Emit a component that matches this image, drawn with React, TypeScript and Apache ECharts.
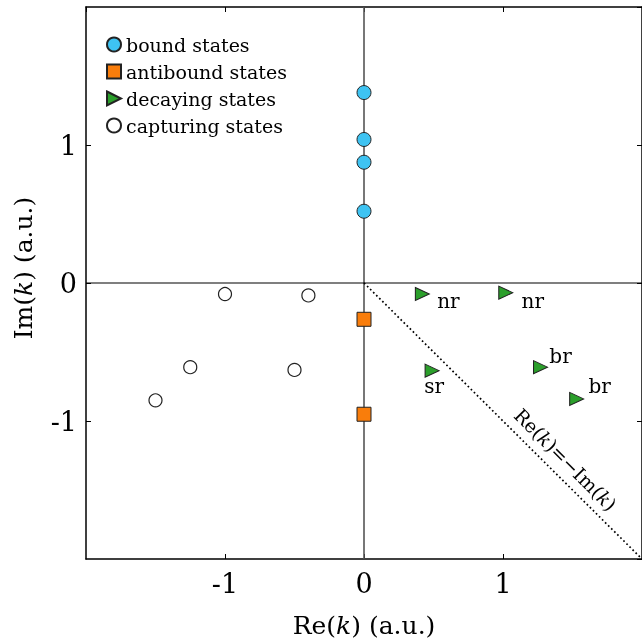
import React, { useEffect, useRef } from "react";
import * as echarts from "echarts";

// ---- data ----
const axisRange = [-2, 2];
const tickStep = 1;
const boundStates = [[0, 1.38], [0, 1.04], [0, 0.875], [0, 0.52]];
const antiboundStates = [[0, -0.263], [0, -0.951]];
const decayingStates = [[0.42, -0.08], [1.02, -0.07], [0.49, -0.635], [1.27, -0.61], [1.53, -0.84]];
const decayingLabels = ["nr", "nr", "sr", "br", "br"];
const capturingStates = [[-1.0, -0.08], [-0.40, -0.09], [-1.25, -0.61], [-0.50, -0.63], [-1.50, -0.85]];
const diagonalLine = [[0, 0], [2, -2]];
const diagonalLabelAt = [1.45, -1.28];
const seriesNames = ["bound states", "antibound states", "decaying states", "capturing states"];

const FONT = "DejaVu Serif";
const TRI = "path://M0,0 L12,6 L0,12 Z";
const labelOffsets: Record<string, number[]> = {
  "0": [26, 7], "1": [27, 8], "2": [2, 15], "3": [20, -11], "4": [23, -13],
};

export default function App() {
  const ref = useRef<HTMLDivElement>(null);
  useEffect(() => {
    if (!ref.current) return;
    const chart = echarts.init(ref.current, undefined, { renderer: "svg" });
    const axisCommon = {
      type: "value",
      min: axisRange[0],
      max: axisRange[1],
      interval: tickStep,
      splitLine: { show: false },
      axisLine: { show: true, onZero: false, lineStyle: { color: "#000", width: 1.5 } },
      axisTick: { show: true, inside: true, length: 5, lineStyle: { color: "#000", width: 1 } },
    };
    const tickLabel = {
      fontFamily: FONT,
      fontSize: 27,
      color: "#000",
      showMinLabel: false,
      showMaxLabel: false,
      formatter: (v: number) => (Math.abs(v) >= 2 ? "" : v < 0 ? "-" + Math.abs(v) : String(v)),
    };
    const rich = {
      i: { fontStyle: "italic", fontFamily: FONT, fontSize: 25, color: "#000" },
      s: { width: 30 },
    };
    const option = {
      animation: false,
      grid: { left: 86, top: 7, width: 556, height: 552 },
      legend: {
        orient: "vertical",
        left: 106,
        top: 35,
        padding: 0,
        itemWidth: 14,
        itemHeight: 14,
        itemGap: 8,
        textStyle: { fontFamily: FONT, fontSize: 19, color: "#000" },
        data: seriesNames,
      },
      xAxis: [
        {
          ...axisCommon,
          position: "bottom",
          axisLabel: { ...tickLabel, margin: 11 },
          name: "Re({i|k}) (a.u.)",
          nameLocation: "middle",
          nameGap: 54,
          nameTextStyle: { fontFamily: FONT, fontSize: 25, color: "#000", rich },
        },
        { ...axisCommon, position: "top", axisLabel: { show: false } },
      ],
      yAxis: [
        {
          ...axisCommon,
          position: "left",
          axisLabel: { ...tickLabel, margin: 9 },
          name: "{s|}Im({i|k}) (a.u.)",
          nameLocation: "middle",
          nameGap: 50,
          nameRotate: 90,
          nameTextStyle: { fontFamily: FONT, fontSize: 25, color: "#000", rich },
        },
        { ...axisCommon, position: "right", axisLabel: { show: false } },
      ],
      series: [
        {
          type: "line",
          silent: true,
          symbol: "none",
          data: [[0, axisRange[0]], [0, axisRange[1]]],
          lineStyle: { color: "#555", width: 1.6 },
          z: 1,
        },
        {
          type: "line",
          silent: true,
          symbol: "none",
          data: [[axisRange[0], 0], [axisRange[1], 0]],
          lineStyle: { color: "#000", width: 1.2 },
          z: 1,
        },
        {
          type: "line",
          silent: true,
          symbol: "none",
          data: diagonalLine,
          lineStyle: { color: "#000", width: 1.7, type: [1.7, 2.6] },
          z: 1,
        },
        {
          name: seriesNames[0],
          type: "scatter",
          symbol: "circle",
          symbolSize: 14,
          data: boundStates,
          itemStyle: { color: "#3ec3f2", borderColor: "#222", borderWidth: 1, opacity: 1 },
          z: 3,
        },
        {
          name: seriesNames[1],
          type: "scatter",
          symbol: "rect",
          symbolSize: 14,
          data: antiboundStates,
          itemStyle: { color: "#f97d0b", borderColor: "#222", borderWidth: 1, opacity: 1 },
          z: 3,
        },
        {
          name: seriesNames[2],
          type: "scatter",
          symbol: TRI,
          symbolSize: [14, 13],
          data: decayingStates.map((p, i) => ({
            value: p,
            label: {
              show: true,
              formatter: decayingLabels[i],
              position: "inside",
              offset: labelOffsets[String(i)],
              fontFamily: FONT,
              fontSize: 20,
              color: "#000",
            },
          })),
          itemStyle: { color: "#2b9f2b", borderColor: "#222", borderWidth: 1, opacity: 1 },
          z: 3,
        },
        {
          name: seriesNames[3],
          type: "scatter",
          symbol: "circle",
          symbolSize: 13,
          data: capturingStates,
          itemStyle: { color: "#fff", borderColor: "#222", borderWidth: 1.2, opacity: 1 },
          z: 3,
        },
        {
          type: "scatter",
          silent: true,
          symbolSize: 0,
          data: [diagonalLabelAt],
          itemStyle: { opacity: 1 },
          label: {
            show: true,
            position: "inside",
            rotate: -45,
            formatter: "Re({i|k})=\u2212Im({i|k})",
            fontFamily: FONT,
            fontSize: 19,
            color: "#000",
            rich: { i: { fontStyle: "italic", fontFamily: FONT, fontSize: 19, color: "#000" } },
          },
          z: 2,
        },
      ],
    };
    chart.setOption(option as any);
    return () => chart.dispose();
  }, []);
  return (
    <div
      ref={ref}
      style={{ position: "fixed", left: 0, top: 0, width: 642, height: 643 }}
    />
  );
}
